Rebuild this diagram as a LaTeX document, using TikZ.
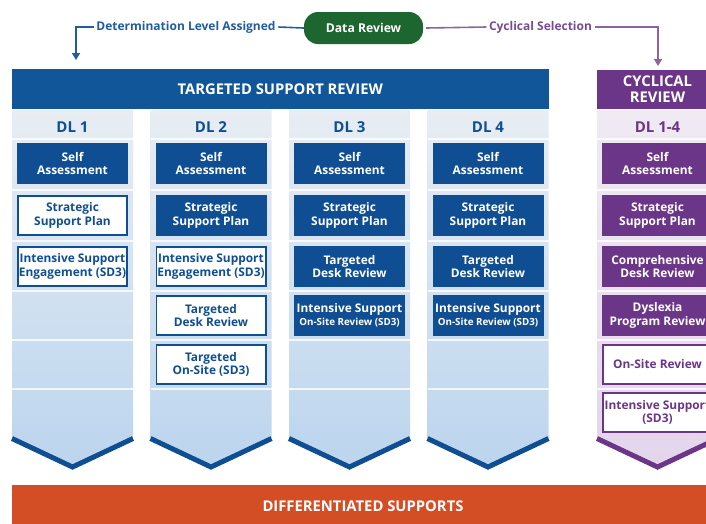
\documentclass[tikz,border=0pt]{standalone}
\usepackage{fontspec}
\setmainfont{Open Sans}
\usetikzlibrary{arrows.meta}

\definecolor{tsrblue}{HTML}{0F4E93}
\definecolor{barblue}{HTML}{115699}
\definecolor{cycpurple}{HTML}{6B3688}
\definecolor{lineblue}{HTML}{1F5D9C}
\definecolor{linepurple}{HTML}{8B64A1}
\definecolor{labelpurple}{HTML}{7A4A92}
\definecolor{drgreen}{HTML}{1D6630}
\definecolor{diffred}{HTML}{D44E25}
\definecolor{colTop}{HTML}{E8EDF3}
\definecolor{colMid}{HTML}{C8DBF0}
\definecolor{colBot}{HTML}{BBD5EE}
\definecolor{cycTop}{HTML}{F0EAF3}
\definecolor{cycBot}{HTML}{E3D5EB}

\newcommand{\boxfont}{\fontsize{11.9}{13.4}\selectfont\bfseries}
\newcommand{\headfont}{\fontsize{14.8}{16}\selectfont\bfseries}

\tikzset{
  fillbox/.style={draw=none, fill=#1, text=white, minimum width=111pt,
    minimum height=41pt, inner sep=0pt, align=center, font=\boxfont},
  outbox/.style={draw=#1, line width=1.8pt, fill=white, text=#1,
    minimum width=109.2pt, minimum height=39.2pt, inner sep=0pt,
    align=center, font=\boxfont},
  dlhead/.style={text=#1, font=\fontsize{15}{17}\selectfont\bfseries},
  toplabel/.style={text=#1, inner sep=2.5pt, font=\fontsize{12}{14}\selectfont\bfseries},
  flowline/.style={draw=#1, line width=1.6pt},
  flowarrow/.style={draw=#1, line width=1.6pt, -{Triangle[width=8pt,length=7pt]}},
  sepline/.style={draw=white, line width=1.2pt, opacity=0.8},
  chevron/.style={draw=#1, line width=5pt, line join=miter},
}

\begin{document}
\begin{tikzpicture}[x=1pt, y=-1pt]
\useasboundingbox (0,0) rectangle (706,523);
\clip (0,0) rectangle (706,523);

% ---------- column backgrounds with chevron bottoms ----------
\foreach \cx in {12,150.5,289,427.5} {
  \shade[top color=colTop, middle color=colMid, bottom color=colBot]
    (\cx,110) -- (\cx+121,110) -- (\cx+121,438.5) -- (\cx+60.5,467) -- (\cx,438.5) -- cycle;
  \foreach \sy in {139,190,241,291,340,389}
    \draw[sepline] (\cx,\sy) -- (\cx+121,\sy);
  \draw[chevron=tsrblue] (\cx,438.5) -- (\cx+60.5,467) -- (\cx+121,438.5);
}
\shade[top color=cycTop, bottom color=cycBot]
  (597,110) -- (718,110) -- (718,438.5) -- (657.5,467) -- (597,438.5) -- cycle;
\foreach \sy in {139,190,241,291,340,389}
  \draw[sepline] (597,\sy) -- (718,\sy);
\draw[chevron=cycpurple] (597,438.5) -- (657.5,467) -- (718,438.5);

% ---------- headers ----------
\node[fill=barblue, text=white, minimum width=536.5pt, minimum height=40pt,
  inner sep=0pt, font=\headfont] (tsr) at (280.25,89) {TARGETED SUPPORT REVIEW};
\node[fill=cycpurple, text=white, minimum width=121pt, minimum height=39pt,
  inner sep=0pt, align=center, font=\headfont] (cycrev) at (657.5,89.5) {CYCLICAL\\REVIEW};

\node[dlhead=tsrblue] (dl1) at (72.5,127) {DL 1};
\node[dlhead=tsrblue] (dl2) at (211,127) {DL 2};
\node[dlhead=tsrblue] (dl3) at (349.5,127) {DL 3};
\node[dlhead=tsrblue] (dl4) at (488,127) {DL 4};
\node[dlhead=cycpurple] (dlc) at (657.5,127) {DL 1-4};

% ---------- DL 1 ----------
\node[fillbox=tsrblue] (a1) at (72.5,163.5) {Self\\Assessment};
\node[outbox=tsrblue]  (a2) at (72.5,215.5) {Strategic\\Support Plan};
\node[outbox=tsrblue]  (a3) at (72.5,266.5) {Intensive Support\\Engagement (SD3)};

% ---------- DL 2 ----------
\node[fillbox=tsrblue] (b1) at (211,163.5) {Self\\Assessment};
\node[fillbox=tsrblue] (b2) at (211,215.5) {Strategic\\Support Plan};
\node[outbox=tsrblue]  (b3) at (211,266.5) {Intensive Support\\Engagement (SD3)};
\node[outbox=tsrblue]  (b4) at (211,315.5) {Targeted\\Desk Review};
\node[outbox=tsrblue]  (b5) at (211,364.5) {Targeted\\On-Site (SD3)};

% ---------- DL 3 ----------
\node[fillbox=tsrblue] (c1) at (349.5,163.5) {Self\\Assessment};
\node[fillbox=tsrblue] (c2) at (349.5,215.5) {Strategic\\Support Plan};
\node[fillbox=tsrblue] (c3) at (349.5,266.5) {Targeted\\Desk Review};
\node[fillbox=tsrblue] (c4) at (349.5,315.5) {Intensive Support\\{\fontsize{9.8}{11}\selectfont On-Site Review (SD3)}};

% ---------- DL 4 ----------
\node[fillbox=tsrblue] (e1) at (488,163.5) {Self\\Assessment};
\node[fillbox=tsrblue] (e2) at (488,215.5) {Strategic\\Support Plan};
\node[fillbox=tsrblue] (e3) at (488,266.5) {Targeted\\Desk Review};
\node[fillbox=tsrblue] (e4) at (488,315.5) {Intensive Support\\{\fontsize{9.8}{11}\selectfont On-Site Review (SD3)}};

% ---------- Cyclical review ----------
\node[fillbox=cycpurple] (f1) at (657.5,163.5) {Self\\Assessment};
\node[fillbox=cycpurple] (f2) at (657.5,215.5) {Strategic\\Support Plan};
\node[fillbox=cycpurple] (f3) at (657.5,266.5) {Comprehensive\\Desk Review};
\node[fillbox=cycpurple] (f4) at (657.5,315.5) {Dyslexia\\Program Review};
\node[outbox=cycpurple]  (f5) at (657.5,364.5) {On-Site Review};
\node[outbox=cycpurple]  (f6) at (657.5,412.5) {Intensive Support\\(SD3)};

% ---------- top flow ----------
\node[fill=drgreen, text=white, rounded corners=14pt, minimum width=119pt,
  minimum height=32pt, inner sep=0pt, font=\fontsize{12.2}{14}\selectfont\bfseries]
  (data) at (363.5,28) {Data Review};
\node[toplabel=lineblue] (dla) at (186,27) {Determination Level Assigned};
\node[toplabel=labelpurple] (cycsel) at (540.5,27) {Cyclical Selection};

\coordinate (lbend) at (76,27);
\coordinate (ltip) at (76,60);
\coordinate (rbend) at (658,27);
\coordinate (rtip) at (658,66);

\draw[flowline=lineblue] (data.west) -- (dla.east);
\draw[flowarrow=lineblue] (dla.west) -- (lbend) -- (ltip);
\draw[flowline=linepurple] ([xshift=3pt]data.east) -- (cycsel.west);
\draw[flowarrow=linepurple] (cycsel.east) -- (rbend) -- (rtip);

% ---------- bottom bar ----------
\node[fill=diffred, minimum width=700pt, minimum height=40pt,
  inner sep=0pt] (diff) at (362,505) {};
\node[text=white, font=\headfont] (difftext) at (363,506) {DIFFERENTIATED SUPPORTS};
\end{tikzpicture}
\end{document}
